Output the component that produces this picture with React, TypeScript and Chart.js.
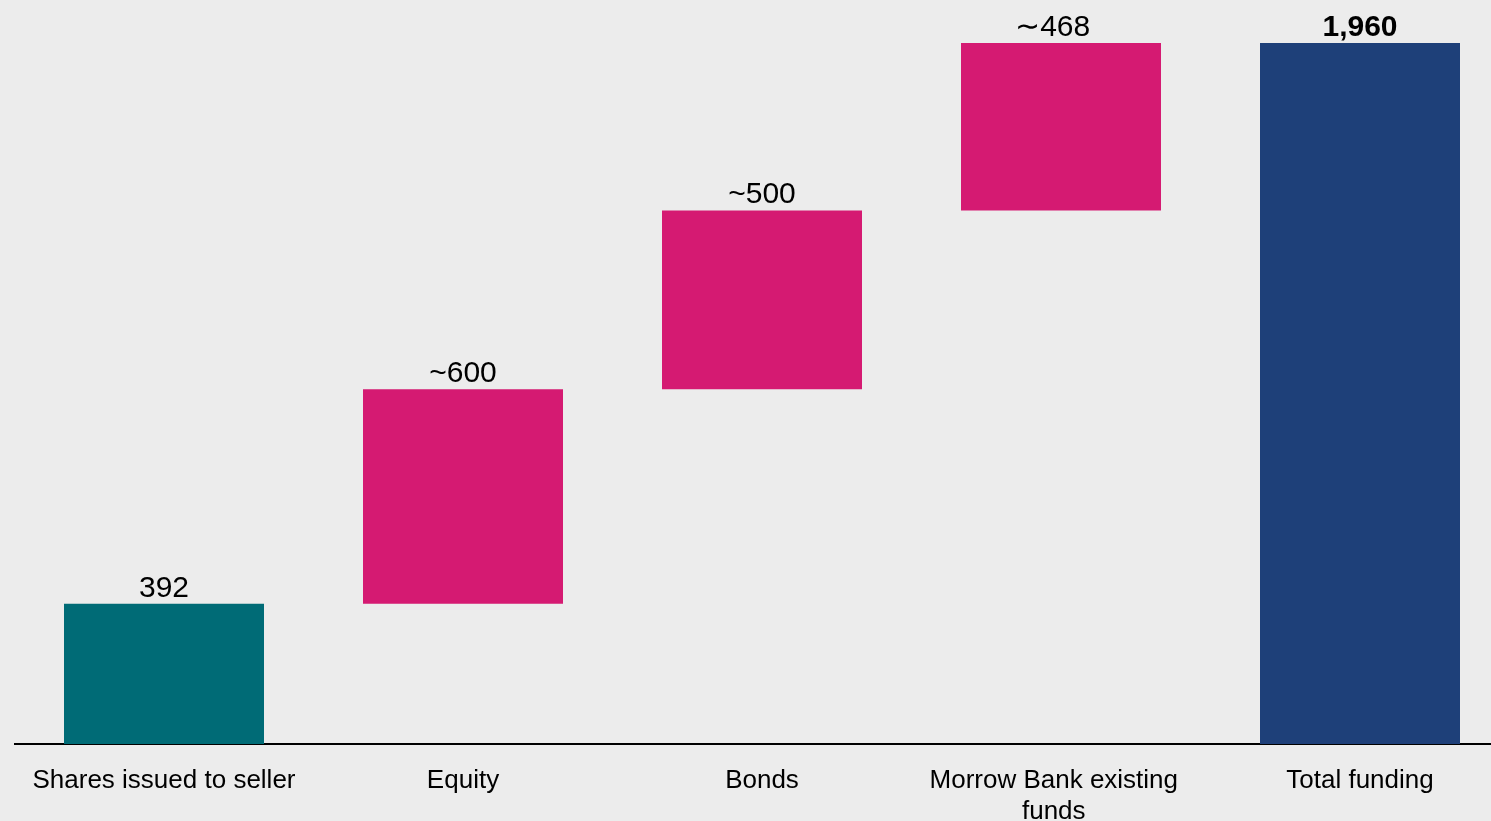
import React, { useEffect, useRef } from "react";
import { Chart, registerables } from "chart.js";

Chart.register(...registerables);

const categories: (string | string[])[] = [
  "Shares issued to seller",
  "Equity",
  "Bonds",
  ["Morrow Bank existing  ", "funds  "],
  "Total funding",
];
const barStarts = [0, 392, 992, 1492, 0];
const barEnds = [392, 992, 1492, 1960, 1960];
const valueLabels = ["392", "~600", "~500", "\u223C468  ", "1,960"];
const labelBold = [false, false, false, false, true];
const barColors = ["#006B76", "#D51A72", "#D51A72", "#D51A72", "#1E4079"];

const FONT = "'Liberation Sans', Arial, Helvetica, sans-serif";

const valueLabelPlugin = {
  id: "valueLabels",
  afterDatasetsDraw(chart: any) {
    const ctx = chart.ctx;
    const meta = chart.getDatasetMeta(0);
    ctx.save();
    ctx.fillStyle = "#000000";
    ctx.textAlign = "center";
    ctx.textBaseline = "alphabetic";
    meta.data.forEach((el: any, i: number) => {
      const top = Math.min(el.y, el.base);
      ctx.font = `${labelBold[i] ? "bold " : ""}30px ${FONT}`;
      ctx.fillText(valueLabels[i], el.x, top - 7);
    });
    ctx.restore();
  },
};

export default function App() {
  const ref = useRef<HTMLCanvasElement | null>(null);
  useEffect(() => {
    if (!ref.current) return;
    const chart = new Chart(ref.current, {
      type: "bar",
      data: {
        labels: categories as any,
        datasets: [
          {
            data: barStarts.map((s, i) => [s, barEnds[i]]) as any,
            backgroundColor: barColors,
            borderWidth: 0,
            categoryPercentage: 1,
            barPercentage: 200 / 299,
          },
        ],
      },
      options: {
        responsive: false,
        animation: false,
        devicePixelRatio: 1,
        layout: { padding: { left: 14.5, right: 0.5, top: 43, bottom: 0.6 } },
        plugins: {
          legend: { display: false },
          tooltip: { enabled: false },
          title: { display: false },
        },
        scales: {
          x: {
            grid: { display: false, drawTicks: false },
            border: { display: true, color: "#000000", width: 2 },
            ticks: {
              color: "#000000",
              padding: 21,
              maxRotation: 0,
              autoSkip: false,
              font: { size: 26, family: FONT, lineHeight: 1.2 },
            },
          },
          y: {
            display: false,
            min: 0,
            max: 1960,
          },
        },
      },
      plugins: [valueLabelPlugin],
    });
    return () => chart.destroy();
  }, []);
  return (
    <div
      style={{
        position: "fixed",
        left: 0,
        top: 0,
        width: 1491,
        height: 821,
        overflow: "hidden",
        background: "#ECECEC",
      }}
    >
      <canvas ref={ref} width={1510} height={849} style={{ display: "block" }} />
    </div>
  );
}
